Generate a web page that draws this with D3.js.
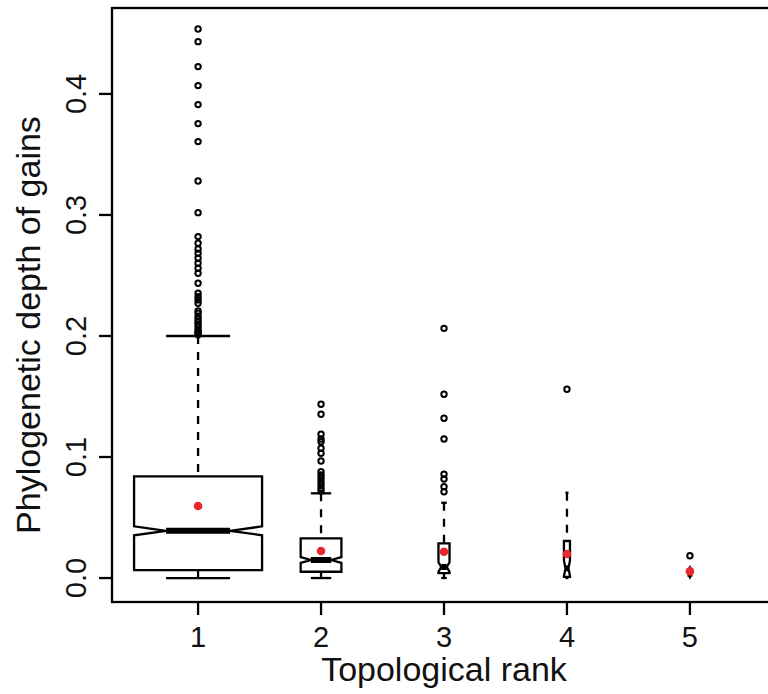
<!DOCTYPE html>
<html>
<head>
<meta charset="utf-8">
<script src="https://cdn.jsdelivr.net/npm/d3@7"></script>
<style>
  html, body { margin: 0; padding: 0; background: #fff; }
  svg text { font-family: "Liberation Sans", Arial, Helvetica, sans-serif; fill: #111; }
</style>
</head>
<body>
<div id="chart"></div>
<script>
// box statistics, one entry per topological rank
const ranks = [1, 2, 3, 4, 5];
const counts = [1100, 350, 95, 52, 22];
const lowerWhisker = [0, 0, 0, 0, 0];
const q1 = [0.0066, 0.0052, 0.0041, 0.001, 0.002];
const median = [0.039, 0.0149, 0.0091, 0.008, 0.005];
const q3 = [0.084, 0.0328, 0.0287, 0.0306, 0.007];
const upperWhisker = [0.2, 0.070, 0.0622, 0.0705, 0.0095];
const means = [0.0595, 0.0223, 0.0217, 0.0198, 0.0055];

const outliers1 = [0.201, 0.2025, 0.2035, 0.205, 0.2074, 0.2097, 0.2118, 0.2138, 0.216, 0.2188,
    0.2207, 0.227, 0.2298, 0.2325, 0.2353, 0.2436, 0.2518, 0.256, 0.2601, 0.2642, 0.2683,
    0.2719, 0.2766, 0.2821, 0.3019, 0.3281, 0.3606, 0.3755, 0.3912, 0.4069, 0.4226, 0.4432, 0.4537];
const outliers2 = [0.0719, 0.0741, 0.0769, 0.0796, 0.0824, 0.0851, 0.0879, 0.0967, 0.1031,
    0.1072, 0.1126, 0.1149, 0.1188, 0.1353, 0.1436];
const outliers3 = [0.0713, 0.0755, 0.0818, 0.0857, 0.1149, 0.132, 0.1518, 0.2063];
const outliers4 = [0.156];
const outliers5 = [0.0184];
const outliers = [outliers1, outliers2, outliers3, outliers4, outliers5];

const yTicks = [0, 0.1, 0.2, 0.3, 0.4];

const W = 768, H = 694;
const plotL = 112, plotR = 776, plotT = 8, plotB = 602;
const lw = 2.3;

const svg = d3.select('#chart').append('svg')
    .attr('width', W)
    .attr('height', H);

const x = d3.scaleLinear().domain([0.3, 5.7]).range([plotL, plotR]);
const y = d3.scaleLinear().domain([-0.0198, 0.471]).range([plotB, plotT]);
// box width proportional to group size
const wid = d3.scaleLinear().domain([0, d3.max(counts)]).range([0, 64]);

const boxes = ranks.map((r, i) => {
    const n = counts[i];
    const notch = 1.58 * (q3[i] - q1[i]) / Math.sqrt(n);
    return {
        r, n,
        lo: lowerWhisker[i], q1: q1[i], med: median[i], q3: q3[i], hi: upperWhisker[i],
        mean: means[i], out: outliers[i],
        c1: median[i] - notch, c2: median[i] + notch
    };
});

const g = svg.append('g');

// whiskers (dashed, drawn from the whisker end towards the box)
g.selectAll('.whisk')
    .data(boxes.flatMap(b => [[b, b.lo, b.q1], [b, b.hi, b.q3]]))
    .join('line')
    .attr('x1', d => x(d[0].r))
    .attr('x2', d => x(d[0].r))
    .attr('y1', d => y(d[1]))
    .attr('y2', d => y(d[2]))
    .attr('stroke', '#000')
    .attr('stroke-width', lw)
    .attr('stroke-dasharray', '8,8');

// staples
g.selectAll('.staple')
    .data(boxes.flatMap(b => [[b, b.lo], [b, b.hi]]))
    .join('line')
    .attr('x1', d => x(d[0].r) - wid(d[0].n) / 2)
    .attr('x2', d => x(d[0].r) + wid(d[0].n) / 2)
    .attr('y1', d => y(d[1]))
    .attr('y2', d => y(d[1]))
    .attr('stroke', '#000')
    .attr('stroke-width', lw);

// notched boxes
g.selectAll('.box')
    .data(boxes)
    .join('path')
    .attr('d', b => {
        const cx = x(b.r), w = wid(b.n);
        const pts = [
            [cx - w, y(b.q1)], [cx + w, y(b.q1)], [cx + w, y(b.c1)], [cx + w / 2, y(b.med)],
            [cx + w, y(b.c2)], [cx + w, y(b.q3)], [cx - w, y(b.q3)], [cx - w, y(b.c2)],
            [cx - w / 2, y(b.med)], [cx - w, y(b.c1)]
        ];
        return 'M' + pts.map(p => p.join(',')).join('L') + 'Z';
    })
    .attr('fill', 'none')
    .attr('stroke', '#000')
    .attr('stroke-width', lw)
    .attr('stroke-linejoin', 'miter');

// medians
g.selectAll('.med')
    .data(boxes)
    .join('line')
    .attr('x1', b => x(b.r) - wid(b.n) / 2)
    .attr('x2', b => x(b.r) + wid(b.n) / 2)
    .attr('y1', b => y(b.med))
    .attr('y2', b => y(b.med))
    .attr('stroke', '#000')
    .attr('stroke-width', 6);

// outliers
g.selectAll('.out')
    .data(boxes.flatMap(b => b.out.map(v => [b.r, v])))
    .join('circle')
    .attr('cx', d => x(d[0]))
    .attr('cy', d => y(d[1]))
    .attr('r', 2.7)
    .attr('fill', 'none')
    .attr('stroke', '#000')
    .attr('stroke-width', 2);

// means
g.selectAll('.mean')
    .data(boxes)
    .join('circle')
    .attr('cx', b => x(b.r))
    .attr('cy', b => y(b.mean))
    .attr('r', 4.3)
    .attr('fill', '#e8282b');

// frame
svg.append('rect')
    .attr('x', plotL).attr('y', plotT)
    .attr('width', plotR - plotL).attr('height', plotB - plotT)
    .attr('fill', 'none')
    .attr('stroke', '#000')
    .attr('stroke-width', lw);

// y axis
const yAxis = svg.append('g');
yAxis.selectAll('line')
    .data(yTicks)
    .join('line')
    .attr('x1', plotL - 13).attr('x2', plotL)
    .attr('y1', d => y(d)).attr('y2', d => y(d))
    .attr('stroke', '#000').attr('stroke-width', lw);
yAxis.selectAll('text')
    .data(yTicks)
    .join('text')
    .attr('transform', d => `translate(${plotL - 26},${y(d)}) rotate(-90)`)
    .attr('text-anchor', 'middle')
    .attr('font-size', 29)
    .text(d3.format('.1f'));

// x axis
const xAxis = svg.append('g');
xAxis.selectAll('line')
    .data(ranks)
    .join('line')
    .attr('x1', d => x(d)).attr('x2', d => x(d))
    .attr('y1', plotB).attr('y2', plotB + 13)
    .attr('stroke', '#000').attr('stroke-width', lw);
xAxis.selectAll('text')
    .data(ranks)
    .join('text')
    .attr('x', d => x(d))
    .attr('y', plotB + 45)
    .attr('text-anchor', 'middle')
    .attr('font-size', 29)
    .text(d => d);

// titles
svg.append('text')
    .attr('x', (plotL + plotR) / 2)
    .attr('y', 681)
    .attr('text-anchor', 'middle')
    .attr('font-size', 34)
    .text('Topological rank');

svg.append('text')
    .attr('transform', `translate(40,${(plotT + plotB) / 2 + 20}) rotate(-90)`)
    .attr('text-anchor', 'middle')
    .attr('font-size', 34)
    .text('Phylogenetic depth of gains');
</script>
</body>
</html>
